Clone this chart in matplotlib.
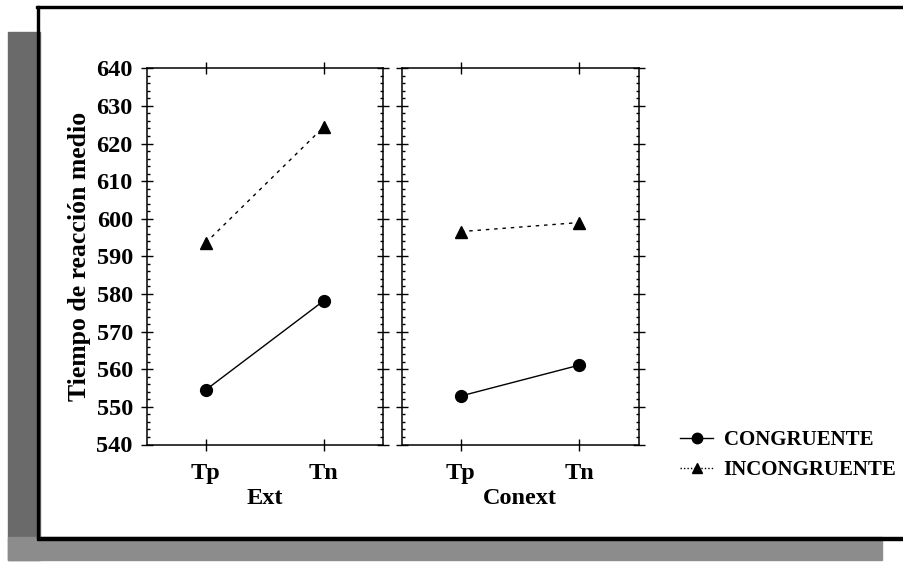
import matplotlib
matplotlib.use("Agg")
import matplotlib.pyplot as plt
from matplotlib.ticker import AutoMinorLocator
from matplotlib.patches import Rectangle
from matplotlib.lines import Line2D

# data
niveles = ["Tp", "Tn"]
paneles = ["Ext", "Conext"]
ext_congruente = [554.5, 578.2]
ext_incongruente = [593.6, 624.4]
conext_congruente = [552.9, 561.1]
conext_incongruente = [596.6, 599.0]
y_ticks = list(range(540, 641, 10))
series = ["CONGRUENTE", "INCONGRUENTE"]

plt.rcParams['font.family'] = ['Liberation Serif', 'DejaVu Serif']
plt.rcParams['font.weight'] = 'bold'
plt.rcParams['axes.linewidth'] = 1.1

W, H = 904, 562
fig = plt.figure(figsize=(W / 100, H / 100), dpi=100)
fig.patch.set_facecolor('white')

# scan frame / gray border
def px_rect(x0, y0, x1, y1, color):
    fig.patches.append(Rectangle((x0 / W, 1 - y1 / H), (x1 - x0) / W, (y1 - y0) / H,
                                 transform=fig.transFigure, color=color, zorder=0))

px_rect(8, 32, 40, 560, '#6a6a6a')
px_rect(8, 537, 882, 560, '#8c8c8c')
px_rect(36, 6, 904, 8, 'black')
px_rect(37, 6, 39, 538, 'black')
px_rect(37, 537, 904, 539.5, 'black')

boxes = [(146.7, 382.7), (401.7, 638.6)]
top, bottom = 68.3, 444.5
axes = []
for (l, r) in boxes:
    ax = fig.add_axes([l / W, 1 - bottom / H, (r - l) / W, (bottom - top) / H])
    axes.append(ax)

datos = [(ext_congruente, ext_incongruente), (conext_congruente, conext_incongruente)]
xs = range(len(niveles))
for i, ax in enumerate(axes):
    cong, incong = datos[i]
    ax.plot(xs, cong, color='black', lw=1.0, marker='o', ms=8.5)
    ax.plot(xs, incong, color='black', lw=1.0, ls=(0, (2.5, 3.5)), marker='^', ms=8.5)
    ax.set_xlim(-0.5, 1.5)
    ax.set_ylim(540, 640)
    ax.set_xticks(list(xs))
    ax.set_xticklabels(niveles, fontsize=17.5, fontweight='bold')
    ax.set_yticks(y_ticks)
    ax.yaxis.set_minor_locator(AutoMinorLocator(5))
    ax.tick_params(axis='both', which='major', direction='inout', length=8, width=1,
                   top=True, right=True)
    ax.tick_params(axis='y', which='minor', direction='in', length=2, width=1,
                   left=True, right=True)
    ax.tick_params(axis='x', which='major', pad=9)
    ax.tick_params(axis='y', which='major', pad=6, labelsize=17.5)
    ax.set_xlabel(paneles[i], fontsize=17.5, fontweight='bold', labelpad=3)
    if i == 0:
        ax.set_ylabel("Tiempo de reacción medio", fontsize=18.5, fontweight='bold', labelpad=4)
        for t in ax.get_yticklabels():
            t.set_fontweight('bold')
    else:
        ax.tick_params(axis='y', labelleft=False)

handles = [Line2D([], [], color='black', lw=1.0, marker='o', ms=7.5),
           Line2D([], [], color='black', lw=1.0, ls=(0, (1, 1.5)), marker='^', ms=7.5)]
fig.legend(handles, series, loc='upper left', bbox_to_anchor=(680 / W, 1 - 430 / H),
           frameon=False, borderpad=0, borderaxespad=0, handlelength=1.6,
           handletextpad=0.5, labelspacing=0.5,
           prop={'family': 'Liberation Serif', 'weight': 'bold', 'size': 15})

fig.savefig("out.png", dpi=100)
